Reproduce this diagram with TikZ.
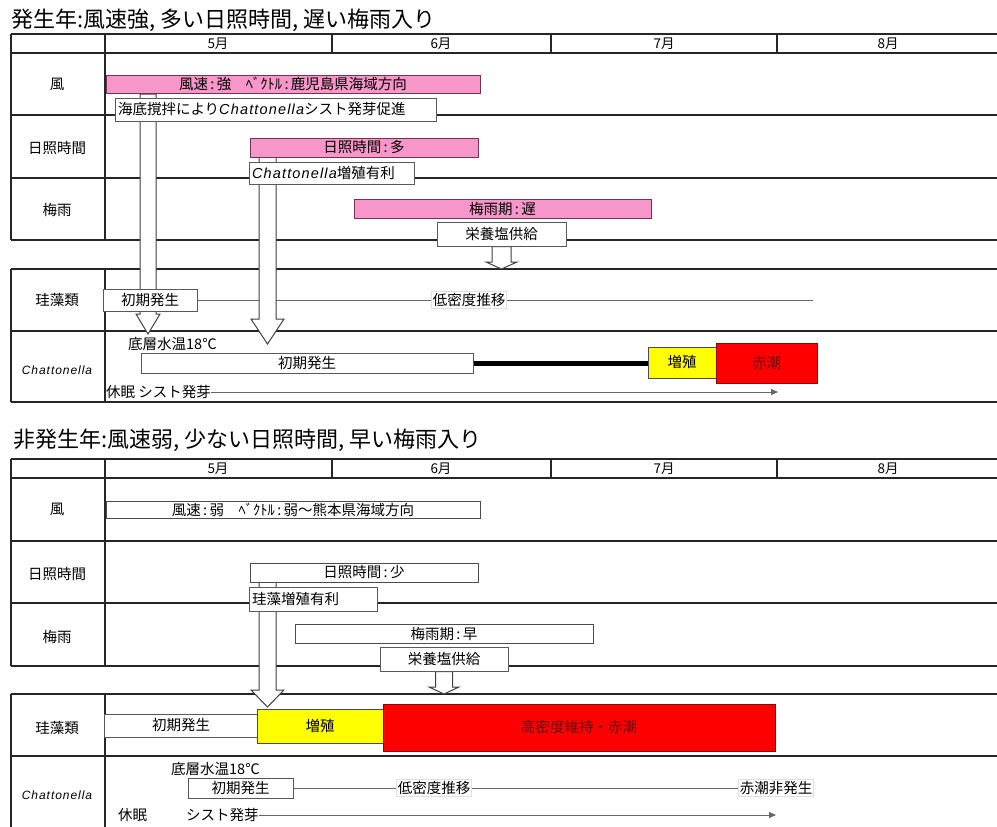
\documentclass[tikz,border=0pt]{standalone}
\usepackage{fontspec}
\setmainfont{Noto Sans CJK JP}
\newfontfamily\latf[LetterSpace=8]{Liberation Sans}
\usetikzlibrary{arrows.meta,calc}
\definecolor{pinkf}{RGB}{247,150,200}
\definecolor{pinkd}{RGB}{120,50,80}
\definecolor{redf}{RGB}{255,0,0}
\definecolor{redd}{RGB}{150,0,0}
\definecolor{redt}{RGB}{110,0,0}
\definecolor{yelf}{RGB}{255,255,0}
\pgfdeclarelayer{back}
\pgfdeclarelayer{mid}
\pgfsetlayers{back,mid,main}
\newcommand\fs[1]{\fontsize{#1}{#1}\selectfont}
\newcommand\chat{{\latf\itshape Chattonella}}
\newcommand\cl{\,:\,}
% [opt]{style}{x1}{y1}{x2}{y2}{text}{name}
\newcommand\rbox[8][]{\node[#2,minimum width={(#5-#3)*1pt},minimum height={(#6-#4)*1pt},inner sep=0pt,#1] (#8) at ({(#3+#5)/2},{(#4+#6)/2}) {#7};}
% {start}{end}{shaft half}{head half}{head length}
\newcommand\hollowarrow[5]{\draw[harrow] let \p1=(#1), \p2=(#2) in (\x1-#3pt,\y1) -- (\x1-#3pt,\y2+#5pt) -- (\x1-#4pt,\y2+#5pt) -- (\x1,\y2) -- (\x1+#4pt,\y2+#5pt) -- (\x1+#3pt,\y2+#5pt) -- (\x1+#3pt,\y1) -- cycle;}
\begin{document}
\begin{tikzpicture}[x=1pt,y=-1pt,
  tline/.style={draw=black!85,line width=1.1pt},
  thinl/.style={draw=black!60,line width=0.9pt},
  harrow/.style={draw=black!75,fill=white,line width=1pt},
  rowlab/.style={font=\fs{14.5},inner sep=0pt},
  chatlab/.style={font=\latf\itshape\fs{12},inner sep=0pt},
  mon/.style={font=\fs{13.5},inner sep=0pt},
  ttl/.style={font=\fs{22},inner sep=0pt,anchor=west},
  plain/.style={font=\fs{14.5},inner sep=0pt},
  pinkbar/.style={draw=pinkd,fill=pinkf,line width=1pt,font=\fs{14.5}},
  wbar/.style={draw=black!70,fill=white,line width=1pt,font=\fs{14.5}},
  wbox/.style={draw=black!65,fill=white,line width=1pt,font=\fs{14.5}},
  yelbox/.style={draw=black!70,fill=yelf,line width=1pt,font=\fs{14.5}},
  redbox/.style={draw=redd,fill=redf,line width=1pt,font=\fs{14.5}},
  faint/.style={draw=black!12,fill=white,line width=0.8pt,font=\fs{14.5},inner sep=1.5pt},
  tip/.style={-{Triangle[length=7pt,width=6pt]}}
]
\useasboundingbox (0,0) rectangle (997,827);
\begin{pgfonlayer}{back}
\fill[white] (0,0) rectangle (997,827);
% ---------- top table ----------
\foreach \y in {34,53,115,178,240,269,331,402} \draw[tline] (11,\y) -- (997,\y);
\foreach \x in {11,105} {\draw[tline] (\x,34) -- (\x,240); \draw[tline] (\x,269) -- (\x,402);}
\foreach \x in {332,551,777} \draw[tline] (\x,34) -- (\x,53);
% ---------- bottom table ----------
\foreach \y in {459,478,541,603,666,694,756} \draw[tline] (11,\y) -- (997,\y);
\foreach \x in {11,105} {\draw[tline] (\x,459) -- (\x,666); \draw[tline] (\x,694) -- (\x,827);}
\foreach \x in {332,551,777} \draw[tline] (\x,459) -- (\x,478);
\end{pgfonlayer}

% ================= TOP =================
\node[ttl] (title1) at (11,20) {発生年:風速強, 多い日照時間, 遅い梅雨入り};
\node[mon] (m1a) at (218,44) {5月};
\node[mon] (m2a) at (441,44) {6月};
\node[mon] (m3a) at (664,44) {7月};
\node[mon] (m4a) at (888,44) {8月};
\node[rowlab] (r1a) at (57,84) {風};
\node[rowlab] (r2a) at (57,148) {日照時間};
\node[rowlab] (r3a) at (57,210) {梅雨};
\node[rowlab] (r4a) at (57,300) {珪藻類};
\node[chatlab] (r5a) at (57,370) {Chattonella};

\rbox{pinkbar}{106}{75}{480}{93}{\raisebox{-3pt}{風速\cl 強\quad ﾍﾞｸﾄﾙ\cl 鹿児島県海域方向}}{wind1}
\rbox[text width=315pt,align=left,inner xsep=3pt]{wbox}{115}{98}{436}{121}{海底撹拌により\chat シスト発芽促進}{kaitei}
\rbox{pinkbar}{250}{138}{478}{157}{\raisebox{-2pt}{日照時間\cl 多}}{sun1}
\rbox[text width=159pt,align=left,inner xsep=3pt]{wbox}{249}{162}{414}{184}{\chat 増殖有利}{chatadv}
\rbox{pinkbar}{354}{199}{651}{218}{\raisebox{-2pt}{梅雨期\cl 遅}}{rain1}
\rbox{wbox}{437}{222}{566}{246}{栄養塩供給}{nut1}
\rbox{wbox}{103}{289}{197}{311}{初期発生}{dia1}
\node[faint] (low1) at (469,300) {低密度推移};
\coordinate (low1end) at (813,300);
\node[plain,anchor=west] (temp1) at (128,344) {底層水温18℃};
\rbox{wbox}{141}{353}{473}{373}{\raisebox{-2pt}{初期発生}}{cini1}
\rbox{yelbox}{648}{347}{716}{378}{増殖}{zs1}
\rbox{redbox}{716}{343}{817}{383}{\textcolor{redt}{赤潮}}{rt1}
\node[plain,anchor=west] (kyu1) at (106,392) {休眠 シスト発芽};
\coordinate (kyu1end) at (778,392);

\coordinate (a1s) at (148,94);
\coordinate (a1e) at (148,334);
\coordinate (a2s) at (267.5,156);
\coordinate (a2e) at (267.5,344);
\coordinate (a3e) at (502,269);

\begin{pgfonlayer}{mid}
\hollowarrow{a1s}{a1e}{8}{12}{20}
\hollowarrow{a2s}{a2e}{8.5}{16.5}{25}
\hollowarrow{nut1.south}{a3e}{9.5}{15.5}{7}
\end{pgfonlayer}
\begin{pgfonlayer}{back}
\draw[thinl] (dia1.east) -- (low1.west);
\draw[thinl] (low1.east) -- (low1end);
\draw[thinl,tip] (kyu1.east) -- (kyu1.east -| kyu1end);
\end{pgfonlayer}
\draw[line width=5pt] (cini1.east) -- (cini1.east -| zs1.west);

% ================= BOTTOM =================
\node[ttl] (title2) at (13,440) {非発生年:風速弱, 少ない日照時間, 早い梅雨入り};
\node[mon] (m1b) at (218,469) {5月};
\node[mon] (m2b) at (441,469) {6月};
\node[mon] (m3b) at (664,469) {7月};
\node[mon] (m4b) at (888,469) {8月};
\node[rowlab] (r1b) at (57,509) {風};
\node[rowlab] (r2b) at (57,574) {日照時間};
\node[rowlab] (r3b) at (57,637) {梅雨};
\node[rowlab] (r4b) at (57,728) {珪藻類};
\node[chatlab] (r5b) at (57,795) {Chattonella};

\rbox{wbar}{106}{501}{480}{518}{\raisebox{-3pt}{風速\cl 弱\quad ﾍﾞｸﾄﾙ\cl 弱〜熊本県海域方向}}{wind2}
\rbox{wbar}{250}{563}{478}{582}{\raisebox{-2pt}{日照時間\cl 少}}{sun2}
\rbox[text width=122pt,align=left,inner xsep=3pt]{wbox}{249}{587}{377}{611}{珪藻増殖有利}{diaadv}
\rbox{wbar}{295}{624}{593}{643}{\raisebox{-2pt}{梅雨期\cl 早}}{rain2}
\rbox{wbox}{380}{647}{508}{671}{栄養塩供給}{nut2}
\rbox{wbox}{104}{714}{258}{737}{初期発生}{dia2}
\rbox{yelbox}{257}{709}{383}{743}{増殖}{zs2}
\rbox{redbox}{383}{704}{775}{751}{\textcolor{redt}{高密度維持・赤潮}}{rt2}
\node[plain,anchor=west] (temp2) at (171,769) {底層水温18℃};
\rbox{wbox}{188}{778}{293}{798}{\raisebox{-2pt}{初期発生}}{cini2}
\node[faint] (low2) at (434,788) {低密度推移};
\node[faint] (nonrt) at (776,788) {赤潮非発生};
\node[plain,anchor=west] (kyu2) at (118,815) {休眠};
\node[plain,anchor=west] (cyst2) at (186,815) {シスト発芽};
\coordinate (cyst2end) at (776,815);

\coordinate (a4s) at (267.5,581);
\coordinate (a4e) at (267.5,707);
\coordinate (a5e) at (444,694);
\begin{pgfonlayer}{mid}
\hollowarrow{a4s}{a4e}{8.5}{16.5}{17}
\hollowarrow{nut2.south}{a5e}{8.5}{15}{7}
\end{pgfonlayer}
\begin{pgfonlayer}{back}
\draw[thinl] (cini2.east) -- (low2.west);
\draw[thinl] (low2.east) -- (nonrt.west);
\draw[thinl,tip] (cyst2.east) -- (cyst2.east -| cyst2end);
\end{pgfonlayer}
\end{tikzpicture}
\end{document}
